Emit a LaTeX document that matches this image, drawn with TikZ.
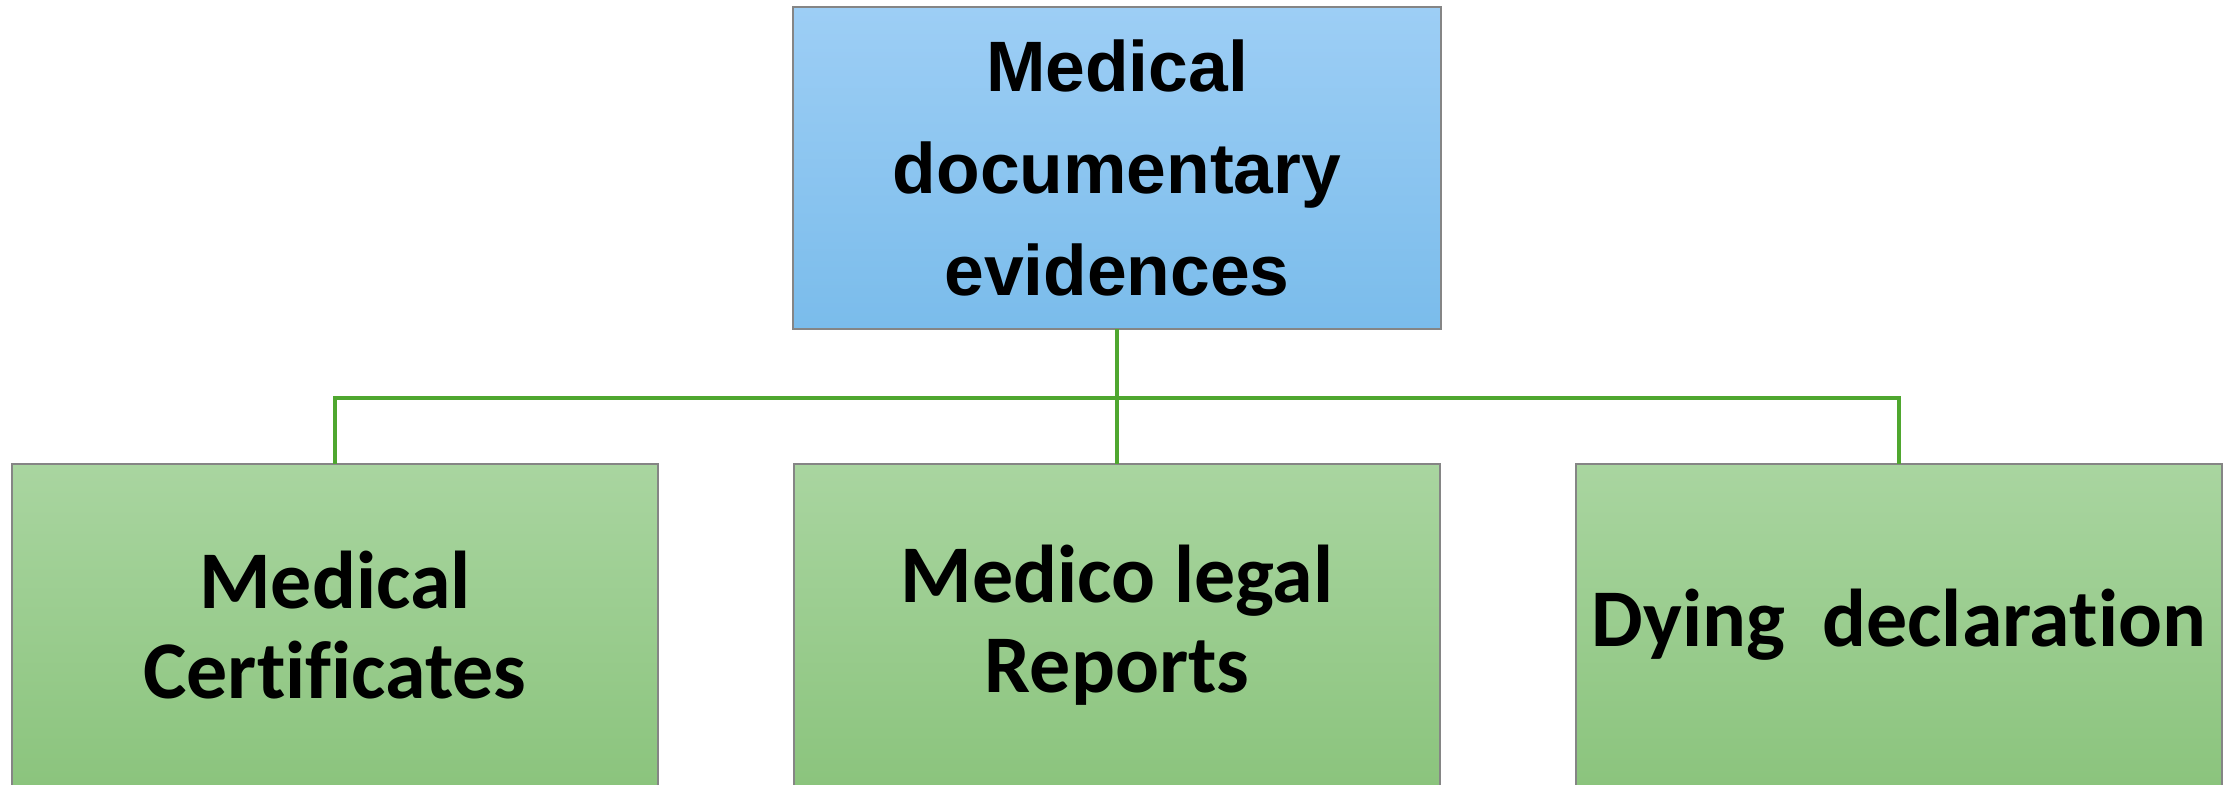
\documentclass[tikz,border=0pt]{standalone}
\usepackage{fontspec}
\newfontfamily\topfont{Liberation Sans}
\newfontfamily\boxfont{Carlito}[RawFeature={-liga;-dlig;-clig}]
\definecolor{bluetop}{HTML}{9DCEF5}
\definecolor{bluebot}{HTML}{7ABCEB}
\definecolor{greentop}{HTML}{A9D5A0}
\definecolor{greenbot}{HTML}{8BC47D}
\definecolor{bordergray}{HTML}{858585}
\definecolor{conngreen}{HTML}{4FA72F}
\begin{document}
\begin{tikzpicture}[x=0.01cm,y=-0.01cm,
  topbox/.style={draw=bordergray, line width=0.45pt, top color=bluetop, bottom color=bluebot,
    minimum width=6.48cm, minimum height=3.22cm, inner sep=0pt, outer sep=0pt,
    align=center, font=\topfont\bfseries\fontsize{20.3pt}{29pt}\selectfont},
  childbox/.style={draw=bordergray, line width=0.45pt, top color=greentop, bottom color=greenbot,
    minimum width=6.46cm, minimum height=3.22cm, inner sep=0pt, outer sep=0pt,
    align=center, font=\boxfont\bfseries\fontsize{23.3pt}{25.6pt}\selectfont},
  conn/.style={draw=conngreen, line width=1.15pt}]
\useasboundingbox (0,0) rectangle (2233,785);
\begin{scope}
\clip (0,0) rectangle (2233,785);
\node[topbox] (top) at (1117,168) {Medical\\documentary\\evidences};
\node[childbox, anchor=north] (c1) at (335,464) {Medical\\Certificates};
\node[childbox, anchor=north] (c2) at (1117,464) {Medico legal\\Reports};
\node[childbox, anchor=north] (c3) at (1899,464) {Dying\ \ declaration};
\end{scope}
\coordinate (bus) at (1117,398);
\draw[conn] (top.south) -- (c2.north);
\draw[conn] (c1.north) -- (c1.north |- bus) -- (c3.north |- bus) -- (c3.north);
\end{tikzpicture}
\end{document}
